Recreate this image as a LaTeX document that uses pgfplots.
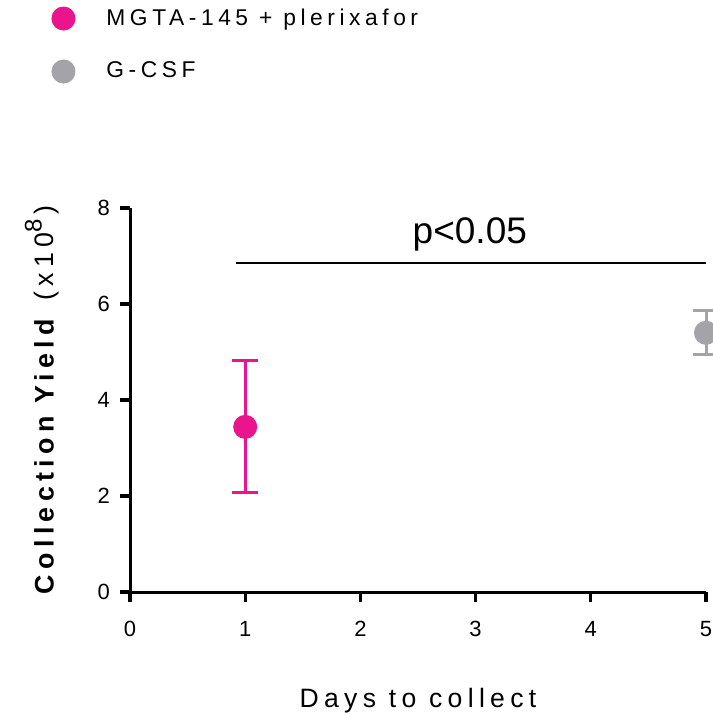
\documentclass[border=0pt]{standalone}
\usepackage{fontspec}
\setmainfont{Liberation Sans}
\newfontfamily\spaced[LetterSpace=20]{Liberation Sans}
\usepackage{pgfplots}
\pgfplotsset{compat=1.18}
\definecolor{mag}{RGB}{234,20,140}
\definecolor{gry}{RGB}{163,163,168}
\begin{document}
\begin{tikzpicture}
\begin{axis}[
  line width=1.5pt,
  scale only axis, width=288pt, height=192pt,
  xmin=0, xmax=5, ymin=0, ymax=8,
  axis lines=left, axis line style={-, line width=1.5pt},
  xtick={0,1,2,3,4,5}, ytick={0,2,4,6,8},
  every tick/.style={line width=1.6pt, black},
  major tick length=5pt, tick align=outside,
  tick label style={font=\fontsize{11}{13}\selectfont},
  xticklabel style={yshift=-5.5pt},
  yticklabel style={xshift=-1pt},
  /pgf/number format/assume math mode=true,
  clip=false,
  xlabel={\spaced\fontsize{13.3}{16}\selectfont Days to collect},
  xlabel style={at={(axis description cs:0.5,-0.2825)}, anchor=center},
  ylabel={\spaced\fontsize{13.4}{16}\selectfont\textbf{Collection Yield} (x10{\fontsize{12}{14}\selectfont\raisebox{0.5em}{8}}\,)},
  ylabel style={at={(axis description cs:-0.1528,0.5)}, anchor=center},
  legend style={at={(axis description cs:-0.1372,1.526)}, anchor=north west, draw=none, fill=none,
    inner sep=0pt, font=\spaced\fontsize{11.4}{13}\selectfont, row sep=15.5pt, column sep=16pt,
    nodes={inner sep=0pt, anchor=west}},
  legend cell align=left,
  legend image code/.code={\draw[#1] plot coordinates {(0pt,0pt)};},
]
\addplot[only marks, mark=*, mark size=5.5pt, color=mag, mark options={fill=mag, draw=mag, line width=1pt},
  error bars/.cd, y dir=both, y explicit,
  error bar style={line width=1.5pt, mag},
  error mark options={rotate=90, mark size=6.5pt, line width=1.5pt, mag}]
  coordinates {(1,3.44) +- (0,1.375)};
\addlegendentry{MGTA-145 + plerixafor}
\addplot[only marks, mark=*, mark size=5.5pt, color=gry, mark options={fill=gry, draw=gry, line width=1pt},
  error bars/.cd, y dir=both, y explicit,
  error bar style={line width=1.5pt, gry},
  error mark options={rotate=90, mark size=6.5pt, line width=1.5pt, gry}]
  coordinates {(5,5.40) +- (0,0.455)};
\addlegendentry{G-CSF}
\draw[line width=0.75pt] (axis cs:0.92,6.85) -- (axis cs:5,6.85);
\node[font=\fontsize{18.5}{22}\selectfont] at (axis cs:2.95,7.45) {p<0.05};
\end{axis}
\pgfresetboundingbox
\useasboundingbox (-65pt,-61.5pt) rectangle (291pt,296pt);
\end{tikzpicture}
\end{document}
